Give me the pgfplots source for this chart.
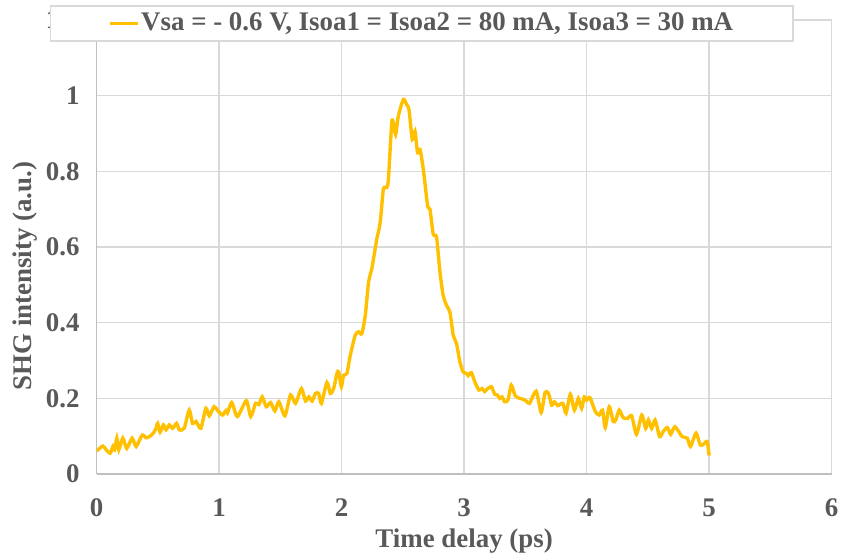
\documentclass[border=0pt]{standalone}
\usepackage{fontspec}
\setmainfont{Liberation Serif}
\usepackage{pgfplots}
\pgfplotsset{compat=1.18}
\definecolor{txtgray}{HTML}{595959}
\definecolor{gridgray}{HTML}{D9D9D9}
\definecolor{axgray}{HTML}{BFBFBF}
\definecolor{shggold}{HTML}{FFC000}

\pgfplotstableread{
x y
0.000 0.061
0.051 0.074
0.079 0.064
0.111 0.055
0.133 0.073
0.146 0.064
0.165 0.095
0.181 0.064
0.214 0.095
0.246 0.068
0.290 0.095
0.323 0.073
0.372 0.103
0.404 0.096
0.431 0.099
0.463 0.108
0.485 0.121
0.498 0.134
0.518 0.111
0.545 0.130
0.567 0.117
0.593 0.130
0.620 0.121
0.653 0.134
0.675 0.117
0.715 0.121
0.756 0.169
0.783 0.134
0.811 0.139
0.851 0.121
0.892 0.174
0.919 0.154
0.959 0.178
0.986 0.169
1.027 0.156
1.054 0.167
1.067 0.161
1.103 0.189
1.149 0.152
1.222 0.194
1.258 0.152
1.298 0.187
1.325 0.184
1.352 0.204
1.385 0.178
1.420 0.189
1.455 0.167
1.488 0.191
1.537 0.154
1.583 0.209
1.624 0.187
1.672 0.226
1.705 0.193
1.732 0.204
1.759 0.193
1.786 0.213
1.813 0.213
1.835 0.187
1.880 0.242
1.908 0.213
1.935 0.226
1.962 0.266
1.976 0.270
1.998 0.231
2.016 0.261
2.043 0.266
2.071 0.314
2.111 0.367
2.138 0.376
2.165 0.371
2.193 0.419
2.220 0.507
2.246 0.542
2.260 0.568
2.287 0.621
2.315 0.665
2.341 0.753
2.368 0.757
2.382 0.779
2.409 0.928
2.423 0.928
2.441 0.897
2.463 0.946
2.504 0.990
2.531 0.976
2.550 0.963
2.577 0.884
2.599 0.906
2.620 0.849
2.640 0.858
2.667 0.805
2.702 0.709
2.721 0.700
2.748 0.634
2.775 0.626
2.803 0.533
2.829 0.472
2.856 0.446
2.884 0.428
2.911 0.367
2.938 0.345
2.965 0.297
2.992 0.270
3.019 0.266
3.033 0.260
3.059 0.268
3.087 0.244
3.120 0.222
3.146 0.226
3.168 0.218
3.189 0.225
3.222 0.231
3.250 0.211
3.271 0.209
3.290 0.200
3.309 0.204
3.331 0.191
3.358 0.196
3.385 0.235
3.417 0.207
3.453 0.200
3.480 0.198
3.507 0.193
3.534 0.187
3.588 0.219
3.629 0.163
3.661 0.216
3.689 0.213
3.715 0.182
3.737 0.191
3.764 0.181
3.805 0.187
3.832 0.161
3.867 0.211
3.900 0.169
3.932 0.200
3.959 0.174
3.981 0.204
4.002 0.196
4.027 0.202
4.071 0.165
4.103 0.156
4.130 0.169
4.152 0.123
4.185 0.178
4.217 0.139
4.238 0.143
4.266 0.169
4.298 0.149
4.333 0.147
4.368 0.154
4.407 0.105
4.450 0.156
4.482 0.121
4.504 0.143
4.531 0.121
4.559 0.143
4.596 0.099
4.624 0.112
4.659 0.123
4.686 0.105
4.721 0.125
4.780 0.099
4.821 0.095
4.848 0.073
4.893 0.108
4.928 0.077
4.955 0.079
4.984 0.086
5.000 0.049
}\shgdata

\begin{document}
\begin{tikzpicture}
\begin{axis}[
  scale only axis,
  width=369pt, height=228pt,
  xmin=0, xmax=6, ymin=0, ymax=1.2,
  xtick={0,1,...,6},
  ytick={0,0.2,...,1.2},
  yticklabels={0,0.2,0.4,0.6,0.8,1,1.2},
  axis lines*=left,
  axis line style={axgray, line width=0.75pt},
  grid=major,
  major grid style={gridgray, line width=0.75pt},
  major tick length=0pt,
  /pgf/number format/assume math mode=true,
  tick label style={font=\fontsize{13.5}{16}\selectfont\bfseries, text=txtgray},
  yticklabel style={xshift=-5pt},
  xticklabel style={yshift=-9pt},
  xlabel={Time delay (ps)},
  ylabel={SHG intensity (a.u.)},
  every axis x label/.style={at={(axis description cs:0.5,-0.147)}, anchor=center,
    font=\fontsize{13.5}{16}\selectfont\bfseries, text=txtgray},
  every axis y label/.style={at={(axis description cs:-0.0976,0.436)}, rotate=90, anchor=center,
    font=\fontsize{13.5}{16}\selectfont\bfseries, text=txtgray},
  legend style={at={(axis description cs:0.4424,0.992)}, anchor=center,
    draw=gridgray, line width=0.75pt, fill=white, inner xsep=29pt, inner ysep=1.5pt,
    font=\fontsize{13.5}{16}\selectfont\bfseries, text=txtgray,
    nodes={inner xsep=1pt}},
  legend image code/.code={\draw[#1, line width=1.5pt] (0pt,0pt) -- (14pt,0pt);},
]
\addplot[shggold, line width=1.7pt, smooth, tension=0.4] table[x=x, y=y] {\shgdata};
\addlegendentry{Vsa = - 0.6 V, Isoa1 = Isoa2 = 80 mA, Isoa3 = 30 mA}
\end{axis}
\path ([xshift=-48.5pt,yshift=-42.5pt]current axis.south west) rectangle ([xshift=5pt,yshift=10pt]current axis.north east);
\end{tikzpicture}
\end{document}
